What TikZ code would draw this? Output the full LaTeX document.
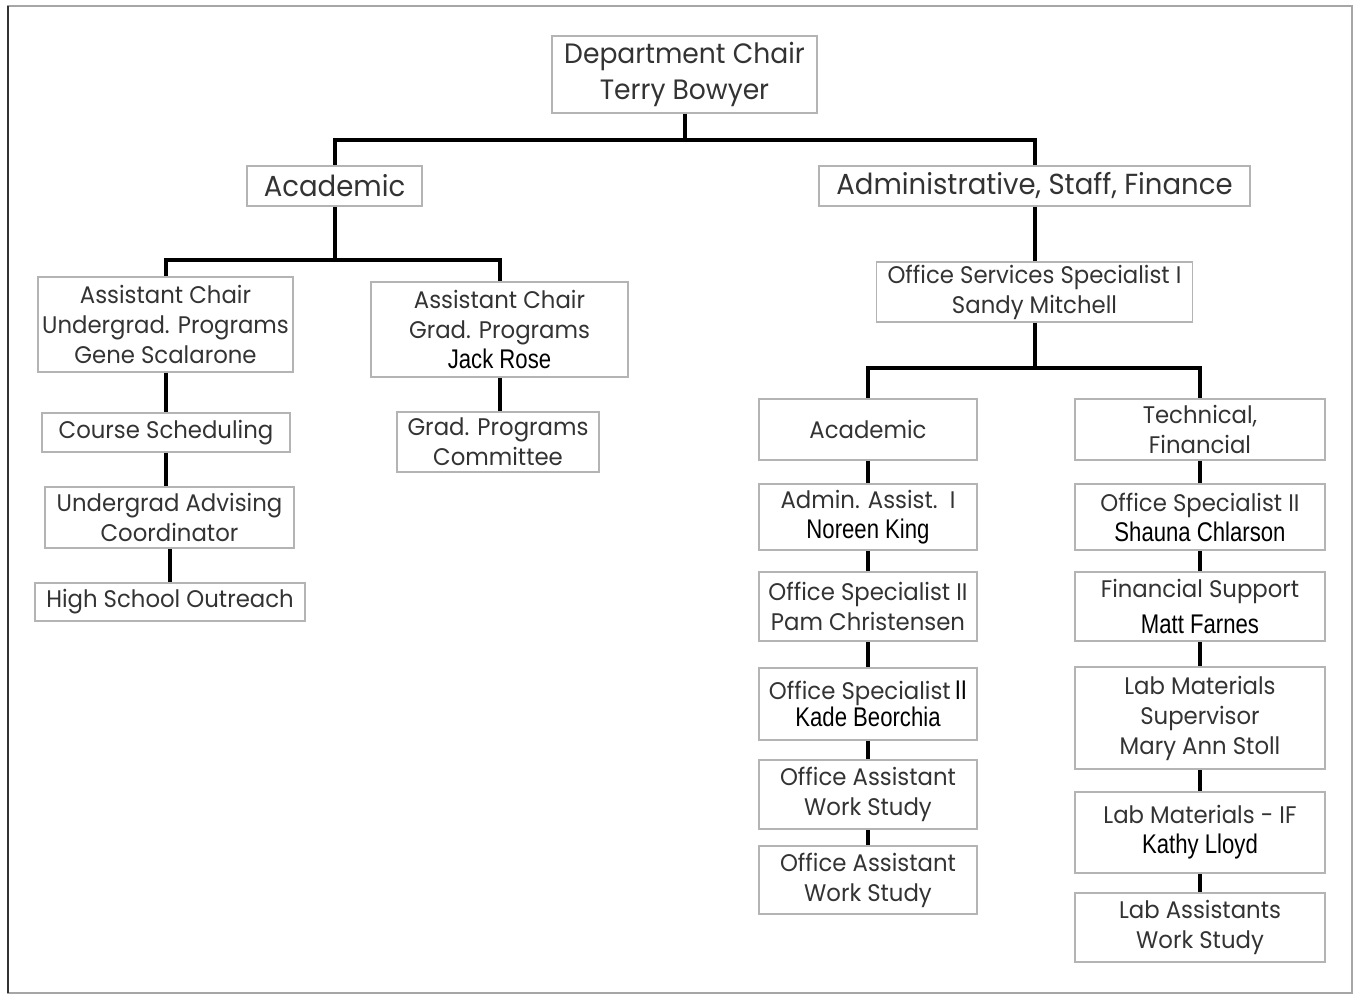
\documentclass[tikz,border=0pt]{standalone}
\usepackage{fontspec}
\setmainfont[FakeStretch=0.95]{Poppins}
\newfontfamily\namefont[FakeStretch=0.82]{Liberation Sans}
\usetikzlibrary{calc,positioning}
\definecolor{txtgray}{HTML}{333333}
\definecolor{boxgray}{HTML}{B4B4B4}
\newcommand{\nm}[1]{{\namefont\fontsize{13.5}{15}\selectfont\color{black}#1}}

\begin{document}
\begin{tikzpicture}[x=0.5pt,y=-0.5pt,-,semithick]
  \tikzstyle{box}=[draw=boxgray, line width=0.8pt, rectangle, inner sep=0pt, align=center, text=txtgray, font=\fontsize{12}{15}\selectfont]
  \tikzstyle{big}=[font=\fontsize{14.5}{18}\selectfont]
  \tikzstyle{conn}=[line width=2pt, black]
  \useasboundingbox (0,0) rectangle (1356,994);
  \draw[gray!70, line width=0.8pt] (8,6) rectangle (1352,993);
  \draw[txtgray, line width=1pt] (8,6) -- (8,993);

  \node[box, font=\fontsize{14}{18}\selectfont, minimum width=132.5pt, minimum height=38.5pt] (chair) at (684.5,74.5) {Department Chair\\Terry Bowyer};
  \node[box, big, minimum width=87.5pt,  minimum height=20pt] (acad) at (334.5,186) {Academic};
  \node[box, big, minimum width=215.5pt, minimum height=20pt] (adm)  at (1034.5,186) {Administrative, Staff, Finance};

  \node[box, minimum width=127.5pt, minimum height=47.5pt] (ugchair) at (165.5,324.5) {Assistant Chair\\Undergrad. Programs\\Gene Scalarone};
  \node[box, minimum width=128.5pt, minimum height=47.5pt] (grchair) at (499.5,329.5) {Assistant Chair\\Grad. Programs\\\nm{Jack Rose}};
  \node[box, minimum width=124pt,   minimum height=19.5pt] (course)  at (166,432.5) {Course Scheduling};
  \node[box, minimum width=124.5pt, minimum height=30.5pt] (advise)  at (169.5,517.5) {Undergrad Advising\\Coordinator};
  \node[box, minimum width=135pt,   minimum height=19pt]   (outreach) at (170,602) {High School Outreach};
  \node[box, minimum width=101pt,   minimum height=30pt]   (gradcom) at (498,442) {Grad. Programs\\Committee};

  \node[box, minimum width=158pt, minimum height=30pt] (oss) at (1034.5,292) {Office Services Specialist I\\Sandy Mitchell};
  \node[box, minimum width=109pt, minimum height=30.5pt] (acadr) at (868,429.5) {Academic};
  \node[box, minimum width=125pt, minimum height=30.5pt] (tech)  at (1200,429.5) {Technical,\\Financial};

  \node[box, minimum width=109pt, minimum height=33pt]   (noreen) at (868,517) {Admin. Assist.~~I\\\nm{Noreen King}};
  \node[box, minimum width=109pt, minimum height=34.5pt] (pam)    at (868,606.5) {Office Specialist II\\Pam Christensen};
  \node[box, minimum width=109pt, minimum height=36pt]   (kade)   at (868,704) {Office Specialist\,\nm{II}\\[-1.5pt]\nm{Kade Beorchia}};
  \node[box, minimum width=109pt, minimum height=34.5pt] (work1)  at (868,794.5) {Office Assistant\\Work Study};
  \node[box, minimum width=109pt, minimum height=34pt]   (work2)  at (868,880) {Office Assistant\\Work Study};

  \node[box, minimum width=125pt, minimum height=33pt]   (shauna) at (1200,517) {Office Specialist II\\\nm{Shauna Chlarson}};
  \node[box, minimum width=125pt, minimum height=34.5pt] (matt)   at (1200,606.5) {Financial Support\\[3pt]\nm{Matt Farnes}};
  \node[box, minimum width=125pt, minimum height=51pt]   (mary)   at (1200,718) {Lab Materials\\Supervisor\\Mary Ann Stoll};
  \node[box, minimum width=125pt, minimum height=40.5pt] (kathy)  at (1200,832.5) {Lab Materials - IF\\\nm{Kathy Lloyd}};
  \node[box, minimum width=125pt, minimum height=34.5pt] (labasst) at (1200,927.5) {Lab Assistants\\Work Study};

  \coordinate (topbus) at (684.5,140);
  \coordinate (acadbus) at (334.5,260);
  \coordinate (ossbus) at (1034.5,368);

  \draw[conn] (chair.south) -- (topbus);
  \draw[conn] (acad.north) |- (topbus) -| (adm.north);
  \draw[conn] (acad.south) -- (acadbus);
  \draw[conn] (ugchair.north) |- (acadbus) -| (grchair.north);
  \draw[conn] (adm.south) -- (oss.north);
  \draw[conn] (oss.south) -- (ossbus);
  \draw[conn] (acadr.north) |- (ossbus) -| (tech.north);

  \path[conn]
      (ugchair.south) edge (ugchair.south |- course.north)
      (course.south) edge (course.south |- advise.north)
      (advise.south) edge (advise.south |- outreach.north)
      (grchair.south) edge (grchair.south |- gradcom.north)
      (acadr.south) edge (noreen.north)
      (noreen.south) edge (pam.north)
      (pam.south) edge (kade.north)
      (kade.south) edge (work1.north)
      (work1.south) edge (work2.north)
      (tech.south) edge (shauna.north)
      (shauna.south) edge (matt.north)
      (matt.south) edge (mary.north)
      (mary.south) edge (kathy.north)
      (kathy.south) edge (labasst.north);
\end{tikzpicture}
\end{document}
